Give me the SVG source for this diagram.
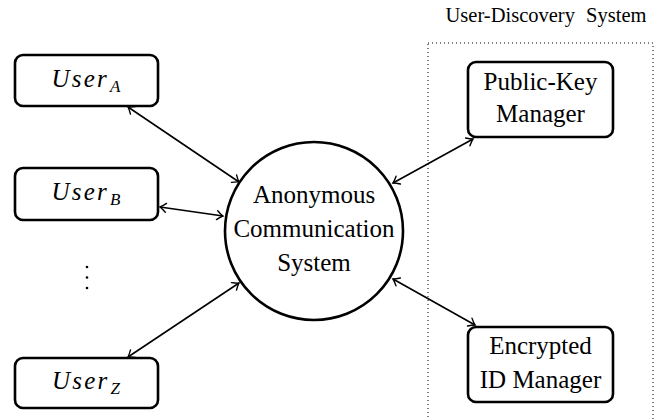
<svg xmlns="http://www.w3.org/2000/svg" width="659" height="420" viewBox="0 0 659 420">
<style>
.box{fill:#fff;stroke:#000;stroke-width:2.6}
text{font-family:'Liberation Serif','Times New Roman','DejaVu Serif',serif;fill:#000;text-anchor:middle}
.t{font-size:25px}
.m{font-style:italic;font-size:25px;letter-spacing:2.2px}
.c{fill:none;stroke:#000;stroke-width:1.6;marker-start:url(#ah);marker-end:url(#ah)}
</style>
<defs>
<marker id="ah" viewBox="-8 -6 10 12" markerWidth="10" markerHeight="12" refX="0" refY="0" orient="auto-start-reverse" markerUnits="userSpaceOnUse">
<path d="M -6 -4.5 Q -2 -1 0 0 Q -2 1 -6 4.5" fill="none" stroke="#000" stroke-width="1.4" stroke-linecap="round"/>
</marker>
</defs>
<g id="uds">
<rect x="428" y="43" width="225" height="400" fill="none" stroke="#000" stroke-width="1" stroke-dasharray="1 3"/>
<text x="546" y="22" style="font-size:20.5px;word-spacing:6px">User-Discovery System</text>
</g>
<g id="connectors">
<line class="c" x1="128" y1="107" x2="239" y2="182"/>
<line class="c" x1="160" y1="207" x2="223" y2="216"/>
<line class="c" x1="128" y1="357" x2="239" y2="283"/>
<line class="c" x1="393" y1="183" x2="473" y2="139"/>
<line class="c" x1="393" y1="279" x2="475" y2="325"/>
</g>
<g id="userA">
<rect class="box" x="15" y="55" width="143" height="51" rx="8"/>
<text class="m" x="87" y="87">User<tspan dx="1" dy="5" style="font-size:17px">A</tspan></text>
</g>
<g id="userB">
<rect class="box" x="15" y="168" width="143" height="52" rx="8"/>
<text class="m" x="87" y="200">User<tspan dx="1" dy="5" style="font-size:17px">B</tspan></text>
</g>
<g id="dots">
<circle cx="87" cy="267" r="1.3"/>
<circle cx="87" cy="277.5" r="1.3"/>
<circle cx="87" cy="288" r="1.3"/>
</g>
<g id="userZ">
<rect class="box" x="15" y="358" width="143" height="50" rx="8"/>
<text class="m" x="87" y="389">User<tspan dx="1" dy="5" style="font-size:17px">Z</tspan></text>
</g>
<g id="acs">
<circle cx="314" cy="231" r="89" fill="#fff" stroke="#000" stroke-width="2.6"/>
<text class="t" x="314" y="203">Anonymous</text>
<text class="t" x="314" y="237">Communication</text>
<text class="t" x="314" y="271">System</text>
</g>
<g id="pkm">
<rect class="box" x="468" y="62" width="145" height="75" rx="8"/>
<text class="t" x="540.5" y="90">Public-Key</text>
<text class="t" x="540.5" y="122">Manager</text>
</g>
<g id="eidm">
<rect class="box" x="468" y="327" width="145" height="75" rx="8"/>
<text class="t" x="540.5" y="354">Encrypted</text>
<text class="t" x="540.5" y="388">ID Manager</text>
</g>
</svg>
